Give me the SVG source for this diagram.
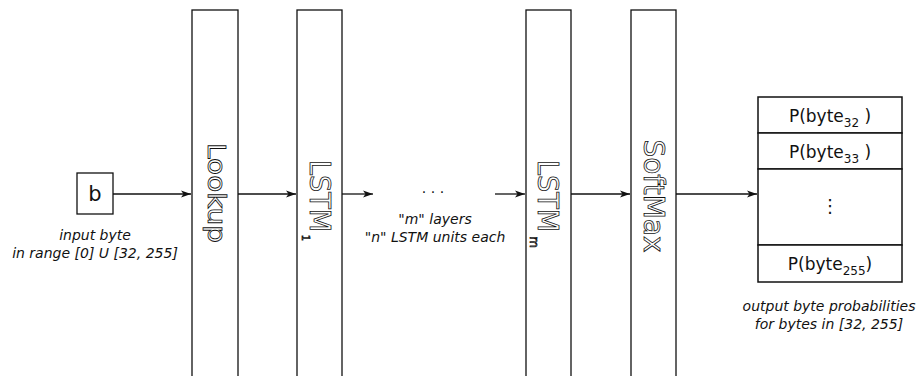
<svg xmlns="http://www.w3.org/2000/svg" width="917" height="376" viewBox="0 0 917 376">
<style>
.box{fill:#fff;stroke:#111;stroke-width:1.3}
.cell{fill:#fff;stroke:#111;stroke-width:1.5}
.edge{fill:none;stroke:#111;stroke-width:1.3}
.hollow{font-family:"DejaVu Sans",sans-serif;fill:#fff;stroke:#111;stroke-width:0.8;text-anchor:middle}
.lbl{font-family:"DejaVu Sans",sans-serif;fill:#111}
.it{font-family:"DejaVu Sans",sans-serif;font-style:italic;font-size:14px;fill:#111;text-anchor:middle}
</style>
<defs>
<marker id="arr" markerWidth="11" markerHeight="8" refX="10" refY="4" orient="auto" markerUnits="userSpaceOnUse">
<path d="M0,0.5 L10,4 L0,7.5 L2.5,4 Z" fill="#111"/>
</marker>
</defs>
<g id="connectors">
<line class="edge" x1="113" y1="194" x2="191" y2="194" marker-end="url(#arr)"/>
<line class="edge" x1="238" y1="194" x2="296" y2="194" marker-end="url(#arr)"/>
<line class="edge" x1="342" y1="194" x2="373" y2="194" marker-end="url(#arr)"/>
<line class="edge" x1="495" y1="194" x2="525" y2="194" marker-end="url(#arr)"/>
<line class="edge" x1="571" y1="194" x2="630" y2="194" marker-end="url(#arr)"/>
<line class="edge" x1="676" y1="194" x2="757" y2="194" marker-end="url(#arr)"/>
</g>
<g id="input">
<rect class="box" x="77" y="173" width="36" height="41"/>
<text class="lbl" x="95" y="201" font-size="21" text-anchor="middle">b</text>
<text class="it" x="95" y="240">input byte</text>
<text class="it" x="95" y="258">in range [0] U [32, 255]</text>
</g>
<g id="lookup">
<rect class="box" x="192" y="10" width="46" height="380"/>
<text class="hollow" x="193" y="-208" font-size="24" textLength="100" lengthAdjust="spacingAndGlyphs" transform="rotate(90)">Lookup</text>
</g>
<g id="lstm1">
<rect class="box" x="297" y="10" width="45" height="380"/>
<text class="hollow" x="196" y="-310" font-size="29" textLength="72" lengthAdjust="spacingAndGlyphs" transform="rotate(90)">LSTM</text>
<text class="hollow" x="238" y="-302" font-size="10" stroke-width="0.6" transform="rotate(90)">1</text>
</g>
<g id="middle">
<text class="lbl" x="433" y="193" font-size="14" text-anchor="middle">. . .</text>
<text class="it" x="435" y="224">"m" layers</text>
<text class="it" x="435" y="242">"n" LSTM units each</text>
</g>
<g id="lstmm">
<rect class="box" x="526" y="10" width="45" height="380"/>
<text class="hollow" x="196" y="-538" font-size="29" textLength="72" lengthAdjust="spacingAndGlyphs" transform="rotate(90)">LSTM</text>
<text class="hollow" x="242" y="-530" font-size="12" stroke-width="0.6" transform="rotate(90)">m</text>
</g>
<g id="softmax">
<rect class="box" x="631" y="10" width="45" height="380"/>
<text class="hollow" x="196" y="-644" font-size="29" textLength="113" lengthAdjust="spacingAndGlyphs" transform="rotate(90)">SoftMax</text>
</g>
<g id="output">
<rect class="cell" x="758" y="97" width="144" height="36"/>
<rect class="cell" x="758" y="133" width="144" height="36"/>
<rect class="cell" x="758" y="169" width="144" height="76"/>
<rect class="cell" x="758" y="245" width="144" height="37"/>
<text class="lbl" x="830" y="122" font-size="17" text-anchor="middle">P(byte<tspan font-size="12" dy="5">32</tspan><tspan dy="-5"> )</tspan></text>
<text class="lbl" x="830" y="158" font-size="17" text-anchor="middle">P(byte<tspan font-size="12" dy="5">33</tspan><tspan dy="-5"> )</tspan></text>
<text class="lbl" x="830" y="212" font-size="18" text-anchor="middle">⋮</text>
<text class="lbl" x="830" y="270" font-size="17" text-anchor="middle">P(byte<tspan font-size="12" dy="5">255</tspan><tspan dy="-5">)</tspan></text>
<text class="it" x="829" y="311">output byte probabilities</text>
<text class="it" x="829" y="329">for bytes in [32, 255]</text>
</g>
</svg>
